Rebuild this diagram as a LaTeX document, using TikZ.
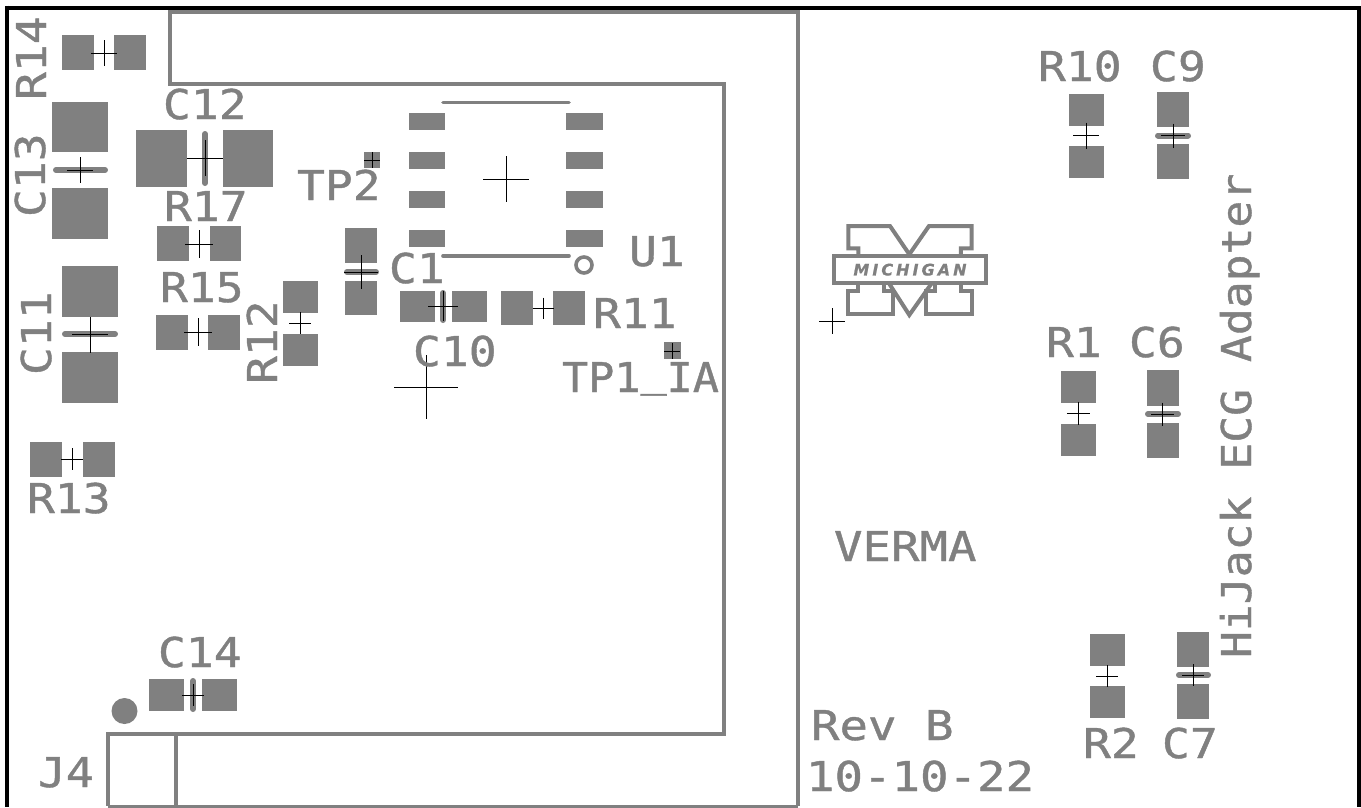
\documentclass[tikz,border=0pt]{standalone}
\usepackage{fontspec}
\newfontfamily\pcbfont[FakeStretch=1.13,FakeBold=1]{DejaVu Sans Mono}
\newfontfamily\longfont[FakeStretch=1.155,FakeBold=1]{DejaVu Sans Mono}
\newfontfamily\titlefont[FakeStretch=1.09,FakeBold=1]{DejaVu Sans Mono}
\newfontfamily\tpfont[FakeStretch=1.06,FakeBold=1]{DejaVu Sans Mono}
\newfontfamily\logofont[LetterSpace=19,FakeBold=0.5]{DejaVu Sans Bold Oblique}
\definecolor{pcb}{HTML}{808080}
\tikzset{
  padbox/.style={fill=pcb,draw=none},
  silk/.style={draw=pcb,line width=3.6pt,line cap=round,line join=round},
  outline/.style={draw=pcb,line width=3.6pt,line cap=butt,line join=miter},
  logoline/.style={draw=pcb,line width=4pt,line cap=round,line join=miter},
  barline/.style={draw=pcb,line width=6pt,line cap=round},
  crossline/.style={draw=black,line width=1pt},
  lab/.style={text=pcb,inner sep=0pt,outer sep=0pt,anchor=base west,font=\pcbfont\fontsize{41}{41}\selectfont},
  llab/.style={lab,font=\longfont\fontsize{41}{41}\selectfont},
  vlab/.style={lab,rotate=90}
}
\newcommand{\cross}[3]{\draw[crossline] (#1-#3,#2) -- (#1+#3,#2) (#1,#2-#3) -- (#1,#2+#3);}
\newcommand{\pad}[4]{\fill[padbox] (#1,#2) rectangle (#3,#4);}
\begin{document}
\begin{tikzpicture}[x=1pt,y=-1pt]
\useasboundingbox (0,0) rectangle (1361,807);
\fill[white] (0,0) rectangle (1361,807);
% board outlines
\draw[outline] (798,806) -- (798,12) -- (170,12) -- (170,84) -- (724,84) -- (724,734) -- (108,734) -- (108,806);
\draw[outline] (176,734) -- (176,806);
\draw[outline] (108,806.5) -- (798,806.5);
\draw[black,line width=4pt] (6.75,7.5) -- (1359,7.5) -- (1359,807) (6.75,5.5) -- (6.75,807);
% pads
\pad{62}{35}{94}{70}\pad{114}{35}{146}{70}
\pad{52}{102}{108}{152}\pad{52}{188}{108}{239}
\pad{136}{130}{187}{187}\pad{223}{130}{273}{187}
\pad{364}{152}{380}{168}
\pad{157}{226}{189}{261}\pad{210}{226}{241}{261}
\foreach \y in {113,152,191,230}{\pad{409}{\y}{445}{\y+16.5}\pad{566}{\y}{603}{\y+16.5}}
\pad{345}{228}{377}{263}\pad{345}{281}{377}{315}
\pad{400}{291}{435}{322}\pad{452}{291}{487}{322}
\pad{501}{291}{533}{325}\pad{553}{291}{585}{325}
\pad{664}{342}{681}{359}
\pad{62}{266}{118}{317}\pad{62}{352}{118}{403}
\pad{156}{315}{188}{350}\pad{208}{315}{240}{350}
\pad{283}{281}{318}{313}\pad{283}{334}{318}{366}
\pad{30}{442}{62}{477}\pad{83}{442}{115}{477}
\pad{149}{679}{184}{711}\pad{202}{679}{237}{711}
\pad{1069}{94}{1104}{126}\pad{1069}{146}{1104}{178}
\pad{1157}{92}{1189}{127}\pad{1157}{144}{1189}{179}
\pad{1061}{371}{1096}{403}\pad{1061}{424}{1096}{456}
\pad{1147}{370}{1179}{406}\pad{1147}{423}{1179}{458}
\pad{1090}{634}{1125}{666}\pad{1090}{686}{1125}{718}
\pad{1177}{632}{1209}{667}\pad{1177}{684}{1209}{719}
\fill[pcb] (124.5,711) circle (13);
% bars
\draw[barline] (56,170) -- (105,170);
\draw[barline] (205,134) -- (205,183);
\draw[barline] (347,272) -- (376,272);
\draw[barline] (443,293) -- (443,320);
\draw[barline] (65,334) -- (115,334);
\draw[barline] (193,681) -- (193,709);
\draw[barline] (1158,135.5) -- (1188,135.5);
\draw[barline] (1148,414) -- (1178,414);
\draw[barline] (1179,675) -- (1208,675);
\draw[silk] (443,102.5) -- (569,102.5) (443,256) -- (569,256);
\draw[silk] (584,265) circle (8);
% crosses
\cross{104}{53}{13}\cross{80}{170}{13}\cross{205}{158}{18}\cross{372}{160}{8}
\cross{199}{244}{14}\cross{506}{179}{23}\cross{361}{272}{17}\cross{443}{306}{15}
\cross{543}{308}{10.5}\cross{426}{387}{32}\cross{672}{351}{8}\cross{90}{334.5}{18}
\cross{198}{332}{14}\cross{300.3}{323.3}{11}\cross{72}{459}{11}\cross{193}{695}{11}
\cross{1086}{135.5}{13}\cross{1173}{135.5}{12}\cross{1078.3}{413.3}{11.5}\cross{1162.7}{414}{11.5}
\cross{1107}{676}{11}\cross{1193}{675}{11}\cross{832}{321}{13}
% logo
\begin{scope}[shift={(825,215)},x=0.3333pt,y=-0.3333pt]
\draw[logoline] (100,122) -- (100,100) -- (70,100) -- (70,33) -- (195,33) -- (253,118) -- (312,33) -- (440,33) -- (440,100) -- (408,100) -- (408,122);
\draw[logoline] (28,122) rectangle (482,205);
\draw[logoline] (100,205) -- (100,228) -- (70,228) -- (70,296) -- (205,296) -- (205,228) -- (178,228) -- (178,205);
\draw[logoline] (192,205) -- (253,300) -- (320,205);
\draw[logoline] (330,205) -- (330,228) -- (303,228) -- (303,296) -- (440,296) -- (440,228) -- (408,228) -- (408,205);
\node[text=pcb,inner sep=0pt,font=\logofont\fontsize{16}{16}\selectfont] (logotext) at (255,164) {MICHIGAN};
\end{scope}
% labels
\node[vlab] (lR14) at (46,100) {R14};
\node[vlab] (lC13) at (45,217) {C13};
\node[lab] (lC12) at (163,119) {C12};
\node[lab] (lR17) at (164,221) {R17};
\node[lab] (lTP2) at (297,200) {TP2};
\node[lab] (lC1) at (389,283) {C1};
\node[lab] (lU1) at (629,266) {U1};
\node[lab] (lR11) at (593,328) {R11};
\node[lab] (lC10) at (413,366) {C10};
\node[lab,font=\tpfont\fontsize{41}{41}\selectfont] (lTP1) at (562,392) {TP1\raisebox{6pt}{\_}IA};
\node[lab] (lR15) at (160,302) {R15};
\node[vlab] (lR12) at (277,384) {R12};
\node[vlab] (lC11) at (51,375) {C11};
\node[lab] (lR13) at (27,513) {R13};
\node[lab] (lC14) at (158,667) {C14};
\node[lab] (lJ4) at (38,787) {J4};
\node[lab] (lR10) at (1038,81) {R10};
\node[lab] (lC9) at (1150,81) {C9};
\node[lab] (lR1) at (1046,357) {R1};
\node[lab] (lC6) at (1129,357) {C6};
\node[llab] (lVERMA) at (834,561) {VERMA};
\node[llab] (lRev) at (811,740) {Rev B};
\node[llab] (lDate) at (806,791) {10-10-22};
\node[lab] (lR2) at (1083,758) {R2};
\node[lab] (lC7) at (1162,758) {C7};
\node[vlab,font=\titlefont\fontsize{41}{41}\selectfont] (lTitle) at (1251,658) {HiJack ECG Adapter};
\end{tikzpicture}
\end{document}
